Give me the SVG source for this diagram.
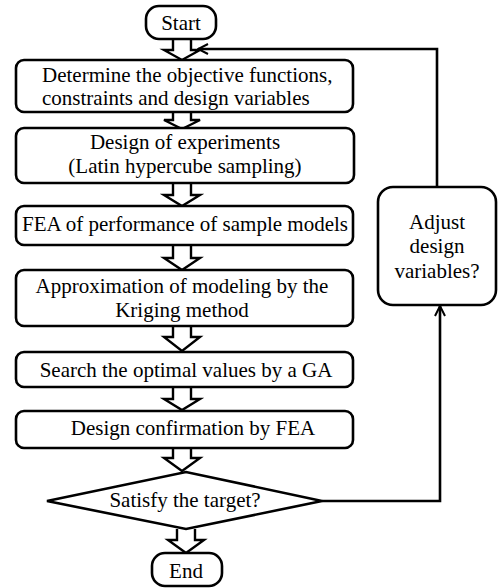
<svg xmlns="http://www.w3.org/2000/svg" width="498" height="588" viewBox="0 0 498 588">
<style>
.b{fill:#fff;stroke:#000;stroke-width:2.6}
.t{font-family:"Liberation Serif","Times New Roman",serif;font-size:21px;fill:#000}
.c{text-anchor:middle}
.ha{fill:#fff;stroke:#000;stroke-width:2.4;stroke-linejoin:miter}
.ln{fill:none;stroke:#000;stroke-width:2.6}
</style>
<defs>
<marker id="ch" viewBox="0 0 12 12" refX="11" refY="6" markerWidth="12" markerHeight="12" markerUnits="userSpaceOnUse" orient="auto">
<path d="M1,1 L11,6 L1,11" fill="none" stroke="#000" stroke-width="2"/>
</marker>
</defs>
<rect width="498" height="588" fill="#fff"/>
<g id="connectors">
<path class="ha" d="M173,39 V50 H164 L182,60 L200,50 H191 V39"/>
<path class="ha" d="M173,112 V120 H164 L182,129 L200,120 H191 V112"/>
<path class="ha" d="M173,183 V195 H164 L182,206 L200,195 H191 V183"/>
<path class="ha" d="M173,245 V258 H164 L182,270 L200,258 H191 V245"/>
<path class="ha" d="M173,326 V337 H164 L182,351 L200,337 H191 V326"/>
<path class="ha" d="M173,387 V399 H164 L182,410 L200,399 H191 V387"/>
<path class="ha" d="M173,448 V458 H164 L182,471 L200,458 H191 V448"/>
<path class="ha" d="M177,529 V540 H168 L186,553 L204,540 H195 V529"/>
<path class="ln" d="M322,501 H440 V306" marker-end="url(#ch)"/>
<path class="ln" d="M437,187 V49 H198" marker-end="url(#ch)"/>
</g>
<g id="start">
<rect class="b" x="146" y="6" width="70" height="33" rx="13"/>
<text class="t c" x="181" y="30">Start</text>
</g>
<g id="n1">
<rect class="b" x="16" y="60" width="337" height="52" rx="8"/>
<text class="t" x="42" y="82">Determine the objective functions,</text>
<text class="t" x="42" y="105">constraints and design variables</text>
</g>
<g id="n2">
<rect class="b" x="16" y="128" width="338" height="55" rx="8"/>
<text class="t c" x="185" y="149">Design of experiments</text>
<text class="t c" x="185" y="173">(Latin hypercube sampling)</text>
</g>
<g id="n3">
<rect class="b" x="16" y="206" width="337" height="39" rx="8"/>
<text class="t c" x="185" y="231">FEA of performance of sample models</text>
</g>
<g id="n4">
<rect class="b" x="16" y="270" width="337" height="56" rx="8"/>
<text class="t c" x="182" y="293">Approximation of modeling by the</text>
<text class="t c" x="182" y="317">Kriging method</text>
</g>
<g id="n5">
<rect class="b" x="16" y="352" width="337" height="35" rx="8"/>
<text class="t c" x="186" y="377">Search the optimal values by a GA</text>
</g>
<g id="n6">
<rect class="b" x="16" y="411" width="337" height="37" rx="8"/>
<text class="t c" x="193" y="435">Design confirmation by FEA</text>
</g>
<g id="decision">
<path class="b" d="M47,501 L186,472 L322,501 L186,529 Z"/>
<text class="t c" x="185" y="507">Satisfy the target?</text>
</g>
<g id="end">
<rect class="b" x="152" y="553" width="70" height="33" rx="13"/>
<text class="t c" x="186" y="578">End</text>
</g>
<g id="adjust">
<rect class="b" x="378" y="187" width="118" height="118" rx="15"/>
<text class="t c" x="437" y="229">Adjust</text>
<text class="t c" x="437" y="253">design</text>
<text class="t c" x="437" y="278">variables?</text>
</g>
</svg>
